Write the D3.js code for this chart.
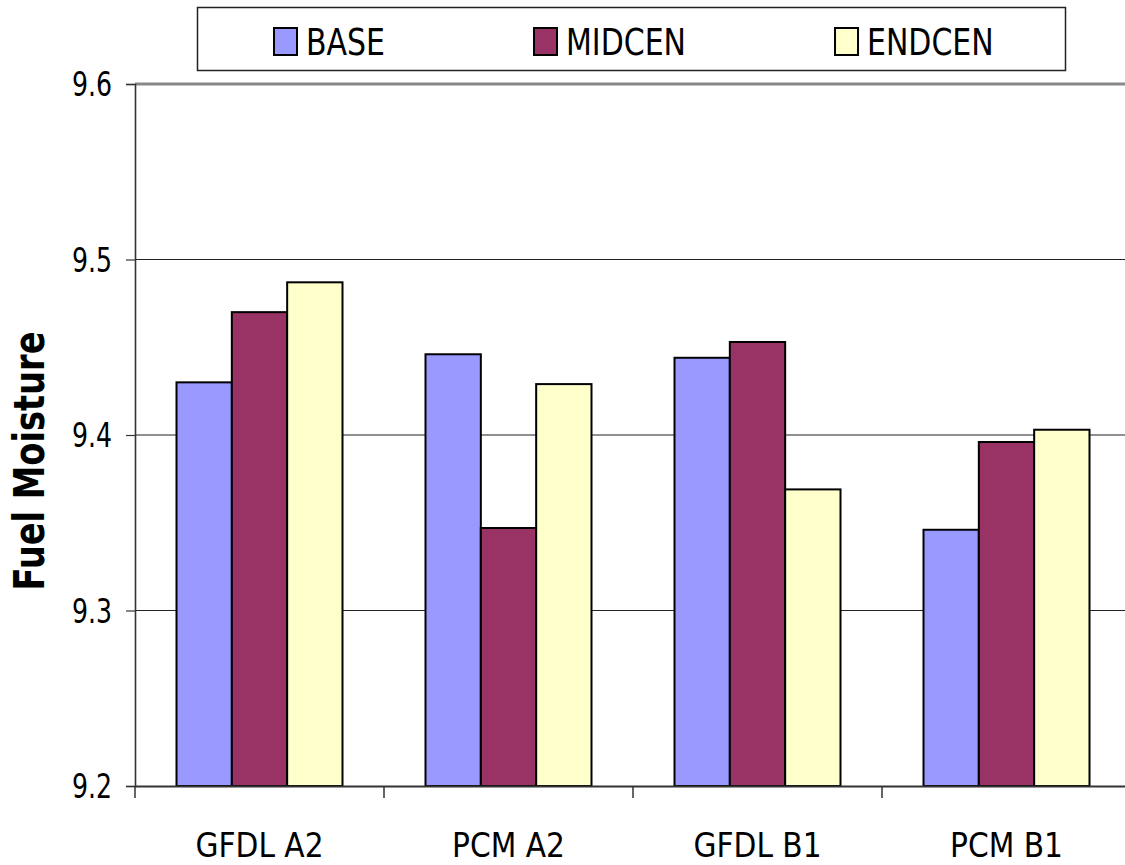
<!DOCTYPE html>
<html>
<head>
<meta charset="utf-8">
<script src="https://cdn.jsdelivr.net/npm/d3@7/dist/d3.min.js"></script>
<style>
  html, body { margin: 0; padding: 0; background: #fff; }
  svg { display: block; }
  .lbl { font-family: "DejaVu Sans Condensed", "DejaVu Sans", sans-serif; fill: #000; }
</style>
</head>
<body>
<script>
// Fuel moisture by scenario and period
const categories = ["GFDL A2", "PCM A2", "GFDL B1", "PCM B1"];
const seriesNames = ["BASE", "MIDCEN", "ENDCEN"];
const baseValues   = [9.430, 9.446, 9.444, 9.346];
const midcenValues = [9.470, 9.347, 9.453, 9.396];
const endcenValues = [9.487, 9.429, 9.369, 9.403];
const yTicks = [9.2, 9.3, 9.4, 9.5, 9.6];
const seriesColors = ["#9999FF", "#993366", "#FFFFCC"];

const seriesValues = [baseValues, midcenValues, endcenValues];

const W = 1125, H = 865;
const plot = { left: 135, right: 1131, top: 84, bottom: 786 };

const svg = d3.select("body").append("svg")
  .attr("width", W).attr("height", H);

// squeeze a text element horizontally by a factor
function condense(sel, k) {
  sel.each(function () {
    const len = this.getComputedTextLength();
    d3.select(this).attr("textLength", len * k).attr("lengthAdjust", "spacingAndGlyphs");
  });
}

const x = d3.scaleBand().domain(categories)
  .range([plot.left, plot.right]).paddingInner(0).paddingOuter(0);

// three bars per group with a 150% gap split across both sides
const barW = x.bandwidth() / 4.5;
const xs = d3.scaleBand().domain(seriesNames)
  .range([barW * 0.75, barW * 3.75]).padding(0);

const y = d3.scaleLinear().domain([9.2, 9.6]).range([plot.bottom, plot.top]);

// horizontal gridlines
svg.append("g").selectAll("line")
  .data(yTicks.filter(t => t > 9.2))
  .join("line")
  .attr("x1", plot.left).attr("x2", W)
  .attr("y1", d => y(d)).attr("y2", d => y(d))
  .attr("stroke", d => d === 9.6 ? "#888" : "#222")
  .attr("stroke-width", d => d === 9.6 ? 3 : 1.2);

// bars
const groups = svg.append("g").selectAll("g")
  .data(categories)
  .join("g")
  .attr("transform", c => `translate(${x(c)},0)`);

groups.selectAll("rect")
  .data((c, i) => seriesNames.map((s, j) => ({ s, v: seriesValues[j][i], j })))
  .join("rect")
  .attr("x", d => xs(d.s))
  .attr("width", xs.bandwidth())
  .attr("y", d => y(d.v))
  .attr("height", d => y(9.2) - y(d.v))
  .attr("fill", d => seriesColors[d.j])
  .attr("stroke", "#000")
  .attr("stroke-width", 2);

// y axis
const yAxis = d3.axisLeft(y).tickValues(yTicks).tickSize(9).tickPadding(14)
  .tickFormat(d3.format(".1f"));
const yg = svg.append("g").attr("transform", `translate(${plot.left},0)`).call(yAxis);
yg.select(".domain").attr("stroke", "#333").attr("stroke-width", 1.6);
yg.selectAll(".tick line").attr("stroke", "#333").attr("stroke-width", 1.2);
yg.selectAll(".tick text").attr("class", "lbl")
  .style("font-size", "33px").attr("dy", "0.36em")
  .call(condense, 0.85);

// x axis
const xAxis = d3.axisBottom(x).tickSize(0).tickPadding(48);
const xg = svg.append("g").attr("transform", `translate(0,${plot.bottom})`).call(xAxis);
xg.select(".domain").attr("stroke", "#333").attr("stroke-width", 2);
xg.selectAll(".tick text").attr("class", "lbl").style("font-size", "33px");
xg.selectAll(".boundary").data(categories).join("line")
  .attr("class", "boundary")
  .attr("x1", c => x(c)).attr("x2", c => x(c))
  .attr("y1", 0).attr("y2", 12)
  .attr("stroke", "#333").attr("stroke-width", 1.5);

// y axis title
svg.append("text")
  .attr("class", "lbl")
  .attr("transform", `translate(44,461) rotate(-90)`)
  .attr("text-anchor", "middle")
  .style("font-family", "'DejaVu Sans', sans-serif")
  .style("font-weight", "bold")
  .style("font-size", "42px")
  .attr("textLength", 259)
  .attr("lengthAdjust", "spacingAndGlyphs")
  .text("Fuel Moisture");

// legend: items laid out left to right, each after the previous label
const legend = svg.append("g");
legend.append("rect")
  .attr("x", 197.5).attr("y", 7.5).attr("width", 868).attr("height", 63)
  .attr("fill", "#fff").attr("stroke", "#222").attr("stroke-width", 1.5);
let cursor = 274;
seriesNames.forEach((s, i) => {
  const g = legend.append("g").attr("transform", `translate(${cursor},0)`);
  g.append("rect")
    .attr("x", 0).attr("y", 28).attr("width", 23).attr("height", 27)
    .attr("fill", seriesColors[i])
    .attr("stroke", "#000").attr("stroke-width", 2);
  const t = g.append("text")
    .attr("class", "lbl")
    .attr("x", 32).attr("y", 55)
    .style("font-size", "37px")
    .text(s)
    .call(condense, 0.9);
  cursor += 32 + +t.attr("textLength") + 149;
});
</script>
</body>
</html>
